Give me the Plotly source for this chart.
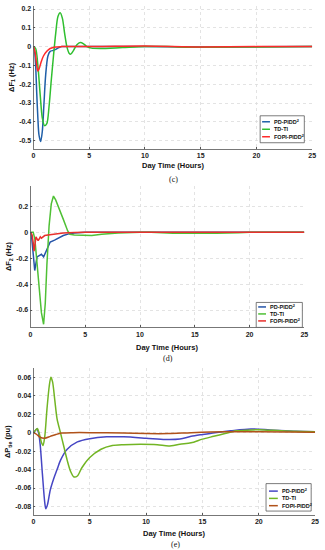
import plotly.graph_objects as go

names = ["PD-PIDD<sup>2</sup>", "TD-TI", "FOPI-PIDD<sup>2</sup>"]

# Panel (c): ΔF1
c_blue_t = [0, 0.1, 0.2, 0.3, 0.4, 0.5, 0.65, 0.8, 0.95, 1.1, 1.3, 1.5, 1.8, 2.0, 2.3, 2.6, 5, 10, 15, 20, 25]
c_blue_v = [0, -0.02, -0.1, -0.25, -0.38, -0.47, -0.505, -0.45, -0.3, -0.15, -0.05, -0.025, -0.02, -0.015, -0.005, 0, 0, 0.001, -0.002, -0.001, 0]
c_green_t = [0, 0.2, 0.4, 0.6, 0.8, 1.0, 1.2, 1.4, 1.6, 1.8, 2.0, 2.2, 2.4, 2.6, 2.8, 3.0, 3.2, 3.35, 3.6, 3.9, 4.2, 4.5, 4.8, 5.2, 6, 8, 10, 12, 14, 16, 20, 25]
c_green_v = [0, -0.01, -0.1, -0.25, -0.38, -0.42, -0.41, -0.32, -0.18, -0.05, 0.07, 0.16, 0.18, 0.15, 0.07, 0.0, -0.035, -0.04, -0.02, 0.01, 0.022, 0.015, 0.0, -0.008, -0.01, -0.005, 0, 0, -0.003, -0.003, -0.002, 0]
c_red_t = [0, 0.15, 0.3, 0.4, 0.5, 0.7, 0.9, 1.2, 1.5, 2.0, 2.5, 6, 10, 15, 20, 25]
c_red_v = [0, -0.03, -0.1, -0.13, -0.12, -0.08, -0.05, -0.025, -0.01, -0.002, 0, 0.001, 0.003, -0.002, 0, 0]

# Panel (d): ΔF2
d_blue_t = [0, 0.1, 0.2, 0.3, 0.39, 0.5, 0.6, 0.8, 1.0, 1.2, 1.4, 1.6, 1.8, 2.2, 2.6, 3.0, 3.5, 4.0, 5, 10, 25]
d_blue_v = [0, -0.03, -0.12, -0.25, -0.295, -0.24, -0.19, -0.18, -0.17, -0.19, -0.15, -0.1, -0.075, -0.06, -0.04, -0.025, -0.012, -0.005, 0, 0, 0]
d_green_t = [0, 0.25, 0.4, 0.6, 0.8, 1.0, 1.2, 1.35, 1.5, 1.7, 1.9, 2.1, 2.3, 2.6, 3.0, 3.4, 3.6, 4.0, 5.0, 5.6, 6.5, 8, 10, 11, 13, 15, 17, 19, 20, 25]
d_green_v = [0, 0, -0.05, -0.25, -0.45, -0.62, -0.71, -0.55, -0.25, 0.05, 0.22, 0.28, 0.25, 0.19, 0.1, 0.01, -0.015, -0.02, -0.022, -0.025, -0.015, -0.005, 0, 0, -0.008, -0.01, -0.008, -0.003, 0, 0]
d_red_t = [0, 0.15, 0.25, 0.33, 0.42, 0.5, 0.6, 0.7, 0.8, 0.9, 1.0, 1.1, 1.3, 1.6, 2, 2.5, 3, 4, 5, 25]
d_red_v = [0, -0.02, -0.08, -0.146, -0.09, -0.035, -0.05, -0.065, -0.05, -0.035, -0.045, -0.04, -0.025, -0.02, -0.015, -0.01, -0.006, -0.002, 0, 0]

# Panel (e): ΔPtie
e_blue_t = [0, 0.15, 0.3, 0.45, 0.6, 0.8, 1.0, 1.1, 1.25, 1.5, 1.8, 2.1, 2.4, 3.0, 3.9, 5.0, 6.5, 8, 10, 11.7, 13, 14, 15, 16.1, 17.5, 19.3, 21, 23.3, 25]
e_blue_v = [0, 0.002, 0.004, 0.0, -0.013, -0.045, -0.075, -0.0825, -0.078, -0.062, -0.05, -0.04, -0.03, -0.018, -0.01, -0.0065, -0.0045, -0.0045, -0.006, -0.0075, -0.007, -0.004, -0.002, 0, 0.002, 0.004, 0.003, 0.0015, 0.001]
e_green_t = [0, 0.15, 0.35, 0.5, 0.7, 0.85, 1.0, 1.2, 1.4, 1.55, 1.7, 1.9, 2.1, 2.4, 2.7, 3.0, 3.3, 3.6, 3.9, 4.3, 5.0, 6, 7, 8, 9.5, 11, 12, 13, 14, 15, 16, 17, 18, 19.5, 20.5, 22, 25]
e_green_v = [0, 0.002, 0.0045, 0.0, -0.01, -0.014, -0.005, 0.025, 0.05, 0.06, 0.055, 0.035, 0.015, 0.0, -0.015, -0.03, -0.042, -0.048, -0.047, -0.038, -0.027, -0.018, -0.014, -0.013, -0.0125, -0.013, -0.0145, -0.0125, -0.011, -0.007, -0.004, -0.001, 0.002, 0.003, 0.003, 0.002, 0.001]
e_red_t = [0, 0.3, 0.6, 1.0, 1.5, 2.0, 2.5, 3.5, 5, 8, 10, 12, 14, 17, 20, 25]
e_red_v = [0, -0.002, -0.005, -0.006, -0.004, -0.002, -0.0005, 0.0, 0, -0.0005, -0.001, -0.001, 0, 0.001, 0.001, 0.0005]

x_ticks = [0, 5, 10, 15, 20, 25]
c_yticks = [0.2, 0.1, 0, -0.1, -0.2, -0.3, -0.4, -0.5]
d_yticks = [0.2, 0, -0.2, -0.4, -0.6]
e_yticks = [0.06, 0.04, 0.02, 0, -0.02, -0.04, -0.06, -0.08]

W, H = 325, 550
def px(x): return x / W
def py(y): return 1 - y / H

panels = [
    dict(ts=[c_blue_t, c_green_t, c_red_t], vs=[c_blue_v, c_green_v, c_red_v],
         colors=["#1f5fa8", "#2fbf2f", "#ff2a2a"], shape="spline",
         xd=[32, 316], yd=[5, 148], yr=[-0.543, 0.216], yt=c_yticks,
         ytitle="ΔF<sub>1</sub> (Hz)", xtitle_y=165, cap="(c)", cap_y=179,
         leg=dict(box=[263, 115, 308, 142], ys=[121, 128.5, 136], lx=[265, 273], tx=275)),
    dict(ts=[d_blue_t, d_green_t, d_red_t], vs=[d_blue_v, d_green_v, d_red_v],
         colors=["#2554a8", "#4fc035", "#e8302c"], shape="linear",
         xd=[29, 308], yd=[185, 327], yr=[-0.734, 0.36], yt=d_yticks,
         ytitle="ΔF<sub>2</sub> (Hz)", xtitle_y=347.5, cap="(d)", cap_y=358.5,
         leg=dict(box=[259, 302, 306, 327], ys=[306.5, 313.5, 320.5], lx=[261, 269], tx=271)),
    dict(ts=[e_blue_t, e_green_t, e_red_t], vs=[e_blue_v, e_green_v, e_red_v],
         colors=["#4646c4", "#72b524", "#b0521a"], shape="spline",
         xd=[32, 319], yd=[368, 515], yr=[-0.0893, 0.0697], yt=e_yticks,
         ytitle="ΔP<sub>tie</sub> (pu)", xtitle_y=533, cap="(e)", cap_y=544,
         leg=dict(box=[269, 483.5, 315, 511], ys=[491, 498.3, 505.6], lx=[272, 281], tx=283)),
]

def fmt(v):
    return "0" if v == 0 else f"{v:g}"

fig = go.Figure()
shapes = []
annotations = []
tick_font = dict(family="Liberation Sans", size=7, color="#222222", weight="bold")
layout = {}
for i, p in enumerate(panels):
    sfx = "" if i == 0 else str(i + 1)
    xa, ya = "x" + sfx, "y" + sfx
    for t, v, c, n in zip(p["ts"], p["vs"], p["colors"], names):
        fig.add_trace(go.Scatter(x=t, y=v, mode="lines", name=n, xaxis=xa, yaxis=ya,
                                 line=dict(color=c, width=1.5, shape=p["shape"], smoothing=0.8),
                                 showlegend=False, hoverinfo="skip"))
    layout["xaxis" + sfx] = dict(
        domain=[px(p["xd"][0]), px(p["xd"][1])], anchor=ya, range=[0, 25],
        tickvals=x_ticks, ticktext=[str(v) for v in x_ticks], tickfont=tick_font,
        showgrid=True, gridcolor="#dcdcdc", griddash="dot", gridwidth=0.8,
        showline=True, linecolor="#555555", linewidth=0.8, ticks="inside", ticklen=2,
        tickcolor="#555555", zeroline=False, mirror=False, fixedrange=True)
    layout["yaxis" + sfx] = dict(
        domain=[py(p["yd"][1]), py(p["yd"][0])], anchor=xa, range=p["yr"],
        tickvals=p["yt"], ticktext=[fmt(v) for v in p["yt"]], tickfont=tick_font,
        showgrid=True, gridcolor="#dcdcdc", griddash="dot", gridwidth=0.8,
        showline=True, linecolor="#555555", linewidth=0.8, ticks="inside", ticklen=2,
        tickcolor="#555555", zeroline=False, mirror=False, fixedrange=True,
        title=dict(text=p["ytitle"], font=dict(family="Liberation Sans", size=7.5, color="#111111", weight="bold"), standoff=3))
    cx = (p["xd"][0] + p["xd"][1]) / 2
    annotations.append(dict(x=px(cx), y=py(p["xtitle_y"]), xref="paper", yref="paper",
                            text="Day Time (Hours)", showarrow=False,
                            font=dict(family="Liberation Sans", size=7.5, color="#111111", weight="bold"),
                            xanchor="center", yanchor="middle"))
    annotations.append(dict(x=px(cx + 1), y=py(p["cap_y"]), xref="paper", yref="paper",
                            text=p["cap"], showarrow=False,
                            font=dict(family="Liberation Serif", size=8, color="#111111"),
                            xanchor="center", yanchor="middle"))
    lg = p["leg"]
    b = lg["box"]
    shapes.append(dict(type="rect", xref="paper", yref="paper", x0=px(b[0]), x1=px(b[2]),
                       y0=py(b[3]), y1=py(b[1]), line=dict(color="#444444", width=0.7),
                       fillcolor="white", layer="above"))
    for yy, c, n in zip(lg["ys"], p["colors"], names):
        shapes.append(dict(type="line", xref="paper", yref="paper", x0=px(lg["lx"][0]), x1=px(lg["lx"][1]),
                           y0=py(yy), y1=py(yy), line=dict(color=c, width=1.5), layer="above"))
        annotations.append(dict(x=px(lg["tx"]), y=py(yy), xref="paper", yref="paper",
                                text=n, showarrow=False, xanchor="left", yanchor="middle",
                                font=dict(family="Liberation Sans", size=5.5, color="#111111", weight="bold")))

fig.update_layout(width=W, height=H, margin=dict(l=0, r=0, t=0, b=0),
                  paper_bgcolor="white", plot_bgcolor="white",
                  shapes=shapes, annotations=annotations, showlegend=False, **layout)
fig.write_html("out.html", config={"displayModeBar": False, "staticPlot": True},
               post_script="document.body.style.margin='0';document.body.style.overflow='hidden';")
